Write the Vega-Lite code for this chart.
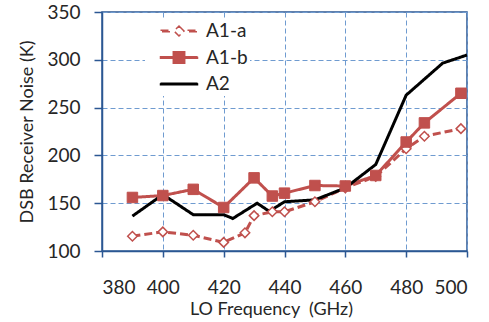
{
  "$schema": "https://vega.github.io/schema/vega-lite/v6.json",
  "width": 365,
  "height": 239,
  "autosize": {"type": "none"},
  "padding": {"left": 102, "top": 12, "right": 22, "bottom": 71},
  "background": "white",
  "config": {
    "font": "Lato",
    "view": {"stroke": "#2B5793", "strokeWidth": 1.5},
    "axis": {
      "domainColor": "#2B5793",
      "domainWidth": 1.5,
      "tickColor": "#2B5793",
      "tickWidth": 1.5,
      "gridColor": "#6F9BD0",
      "gridDash": [5, 3],
      "gridWidth": 1,
      "labelFont": "Lato",
      "labelFontSize": 19,
      "labelColor": "#262626",
      "titleFont": "Lato",
      "titleFontSize": 18,
      "titleFontWeight": "normal",
      "titleColor": "#262626"
    }
  },
  "data": {
    "values": [
      {"series": "A1-a", "f": 390, "noise": 115.5},
      {"series": "A1-a", "f": 400, "noise": 120},
      {"series": "A1-a", "f": 410, "noise": 116.5},
      {"series": "A1-a", "f": 420, "noise": 109},
      {"series": "A1-a", "f": 427, "noise": 119},
      {"series": "A1-a", "f": 430, "noise": 137},
      {"series": "A1-a", "f": 436, "noise": 141},
      {"series": "A1-a", "f": 440, "noise": 141},
      {"series": "A1-a", "f": 450, "noise": 151.5},
      {"series": "A1-a", "f": 460, "noise": 166},
      {"series": "A1-a", "f": 470, "noise": 178},
      {"series": "A1-a", "f": 480, "noise": 207},
      {"series": "A1-a", "f": 486, "noise": 220},
      {"series": "A1-a", "f": 498, "noise": 228},
      {"series": "A1-b", "f": 390, "noise": 156},
      {"series": "A1-b", "f": 400, "noise": 158},
      {"series": "A1-b", "f": 410, "noise": 164.5},
      {"series": "A1-b", "f": 420, "noise": 145.5},
      {"series": "A1-b", "f": 430, "noise": 176.5},
      {"series": "A1-b", "f": 436, "noise": 157.5},
      {"series": "A1-b", "f": 440, "noise": 160.5},
      {"series": "A1-b", "f": 450, "noise": 168.5},
      {"series": "A1-b", "f": 460, "noise": 168},
      {"series": "A1-b", "f": 470, "noise": 179},
      {"series": "A1-b", "f": 480, "noise": 214},
      {"series": "A1-b", "f": 486, "noise": 234},
      {"series": "A1-b", "f": 498, "noise": 265},
      {"series": "A2", "f": 390, "noise": 136.5},
      {"series": "A2", "f": 400, "noise": 159},
      {"series": "A2", "f": 410, "noise": 138},
      {"series": "A2", "f": 420, "noise": 138},
      {"series": "A2", "f": 423, "noise": 134},
      {"series": "A2", "f": 431, "noise": 150},
      {"series": "A2", "f": 435, "noise": 141.5},
      {"series": "A2", "f": 440, "noise": 151.5},
      {"series": "A2", "f": 450, "noise": 153.5},
      {"series": "A2", "f": 460, "noise": 166},
      {"series": "A2", "f": 470, "noise": 190.5},
      {"series": "A2", "f": 480, "noise": 263},
      {"series": "A2", "f": 492, "noise": 296.5},
      {"series": "A2", "f": 500, "noise": 305}
    ]
  },
  "encoding": {
    "x": {
      "field": "f", "type": "quantitative",
      "scale": {"domain": [380, 500], "nice": false, "zero": false},
      "axis": {
        "title": "LO Frequency \u00a0(GHz)",
        "values": [380, 400, 420, 440, 460, 480, 500],
        "tickSize": 6,
        "labelBaseline": "alphabetic",
        "labelPadding": 36,
        "titleX": 169,
        "titleY": 63,
        "titleBaseline": "alphabetic",
        "titleAnchor": "middle",
        "titleAlign": "center"
      }
    },
    "y": {
      "field": "noise", "type": "quantitative",
      "scale": {"domain": [100, 350], "nice": false, "zero": false},
      "axis": {
        "title": "DSB Receiver Noise (K)",
        "values": [100, 150, 200, 250, 300, 350],
        "tickSize": 8,
        "labelPadding": 14,
        "titleX": -70,
        "titleY": 119.5,
        "titleAngle": 270,
        "titleBaseline": "alphabetic",
        "titleAlign": "center"
      }
    }
  },
  "layer": [
    {
      "mark": {"type": "line", "strokeWidth": 3},
      "encoding": {
        "color": {
          "field": "series", "type": "nominal",
          "scale": {"domain": ["A1-a", "A1-b", "A2"], "range": ["#C0504D", "#C0504D", "#000000"]},
          "legend": {
            "orient": "none",
            "legendX": 43,
            "legendY": 6,
            "title": null,
            "fillColor": "white",
            "padding": 2,
            "symbolSize": 400,
            "symbolStrokeWidth": 1.5,
            "rowPadding": 5.5,
            "labelFont": "Lato",
            "labelFontSize": 19,
            "labelColor": "#262626",
            "symbolOffset": 21,
            "labelOffset": 16,
            "encode": {
              "symbols": {
                "update": {
                  "shape": {"signal": "datum.value === 'A1-a' ? 'M-1.85,-0.075H-0.85V0.075H-1.85Z M0.85,-0.075H1.85V0.075H0.85Z M0,-0.5L0.5,0L0,0.5L-0.5,0Z' : (datum.value === 'A1-b' ? 'M-1.85,-0.075H1.85V0.075H-1.85Z M-0.57,-0.57H0.57V0.57H-0.57Z' : 'M-1.85,-0.075H1.85V0.075H-1.85Z')"},
                  "fill": {"signal": "datum.value === 'A1-a' ? '#ffffff' : (datum.value === 'A1-b' ? '#C0504D' : '#000000')"},
                  "stroke": {"signal": "datum.value === 'A2' ? '#000000' : '#C0504D'"},
                  "strokeWidth": {"value": 1.5},
                  "strokeDash": {"value": [1, 0]},
                  "opacity": {"value": 1},
                  "fillOpacity": {"value": 1},
                  "strokeOpacity": {"value": 1}
                }
              }
            }
          }
        },
        "strokeDash": {
          "field": "series", "type": "nominal",
          "scale": {"domain": ["A1-a", "A1-b", "A2"], "range": [[8, 4], [1, 0], [1, 0]]},
          "legend": null
        }
      }
    },
    {
      "transform": [{"filter": "datum.series === 'A1-a'"}],
      "mark": {"type": "point", "shape": "diamond", "filled": true, "fill": "#ffffff", "stroke": "#C0504D", "strokeWidth": 1.5, "size": 90, "opacity": 1}
    },
    {
      "transform": [{"filter": "datum.series === 'A1-b'"}],
      "mark": {"type": "point", "shape": "square", "filled": true, "fill": "#C0504D", "stroke": "#C0504D", "strokeWidth": 1, "size": 110, "opacity": 1}
    }
  ]
}
